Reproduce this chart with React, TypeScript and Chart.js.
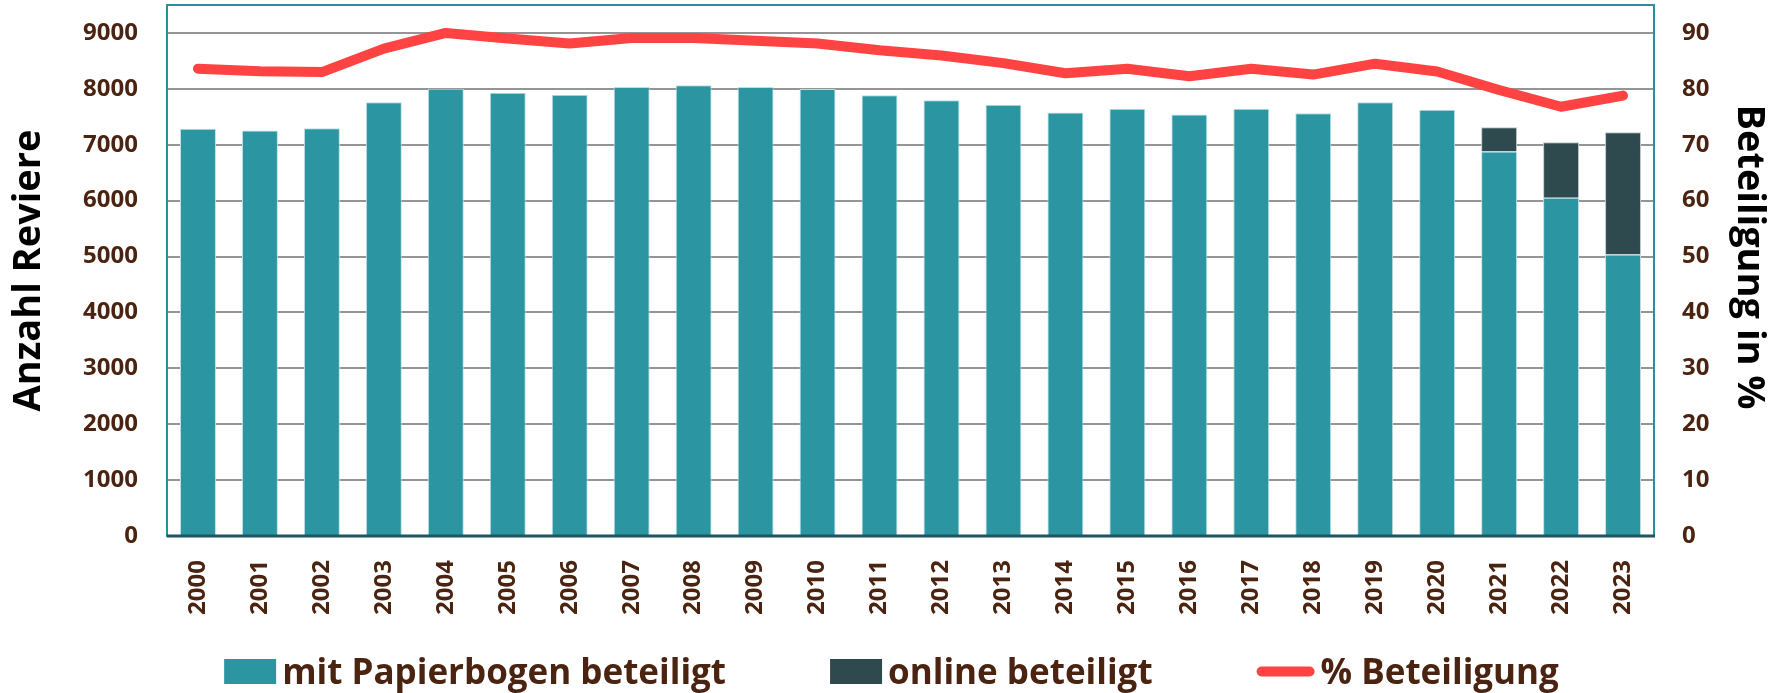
import React, { useEffect, useRef } from 'react';
import { Chart, registerables } from 'chart.js';

Chart.register(...registerables);

const years = ['2000', '2001', '2002', '2003', '2004', '2005', '2006', '2007', '2008', '2009', '2010', '2011', '2012', '2013', '2014', '2015', '2016', '2017', '2018', '2019', '2020', '2021', '2022', '2023'];
const paperValues = [7285, 7255, 7295, 7760, 8000, 7930, 7895, 8035, 8065, 8035, 7995, 7885, 7795, 7715, 7575, 7645, 7540, 7645, 7565, 7760, 7625, 6880, 6050, 5035];
const onlineValues = [null, null, null, null, null, null, null, null, null, null, null, null, null, null, null, null, null, null, null, null, null, 435, 995, 2190];
const percentValues = [83.6, 83.15, 83.0, 87.2, 90.0, 89.0, 88.1, 89.1, 89.1, 88.6, 88.1, 86.9, 85.95, 84.6, 82.8, 83.6, 82.25, 83.6, 82.55, 84.5, 83.1, 79.8, 76.8, 78.8];
const seriesLabels = ['mit Papierbogen beteiligt', 'online beteiligt', '% Beteiligung'];
const leftAxisTitle = 'Anzahl Reviere';
const rightAxisTitle = 'Beteiligung in %';
const leftTickValues = [0, 1000, 2000, 3000, 4000, 5000, 6000, 7000, 8000, 9000];
const rightTickValues = [0, 10, 20, 30, 40, 50, 60, 70, 80, 90];
const leftMax = 9500;
const rightMax = 95;

const FONT = '"Open Sans", sans-serif';
const BROWN = '#4a2410';
const TEAL = '#2b95a1';
const DARK = '#2f4a4f';
const RED = '#ff4242';

const frameColors = { border: '#2b8f99', bottom: '#1d5660' };

const borderPlugin = {
  id: 'plotFrame',
  afterDatasetsDraw(chart: any) {
    const { ctx, chartArea } = chart;
    ctx.save();
    ctx.strokeStyle = frameColors.border;
    ctx.lineWidth = 2;
    ctx.strokeRect(chartArea.left, chartArea.top, chartArea.right - chartArea.left, chartArea.bottom - chartArea.top);
    ctx.strokeStyle = frameColors.bottom;
    ctx.lineWidth = 3;
    ctx.beginPath();
    ctx.moveTo(chartArea.left, chartArea.bottom);
    ctx.lineTo(chartArea.right + 1, chartArea.bottom);
    ctx.stroke();
    ctx.restore();
  },
};

const rightTitlePlugin = {
  id: 'rightTitle',
  afterDraw(chart: any) {
    const ctx = chart.ctx;
    ctx.save();
    ctx.translate(1749, 257);
    ctx.rotate(Math.PI / 2);
    ctx.font = `bold 38px ${FONT}`;
    ctx.fillStyle = '#000000';
    ctx.textAlign = 'center';
    ctx.textBaseline = 'middle';
    ctx.fillText(rightAxisTitle, 0, 0);
    ctx.restore();
  },
};

const legendPlugin = {
  id: 'bottomLegend',
  afterDraw(chart: any) {
    const ctx = chart.ctx;
    ctx.save();
    ctx.font = `bold 35px ${FONT}`;
    const kinds = [
      { kind: 'box', color: TEAL },
      { kind: 'box', color: DARK },
      { kind: 'line', color: RED },
    ];
    const symW = [52, 52, 58];
    const textGap = 6;
    const itemGap = 104;
    const widths = seriesLabels.map((t, i) => symW[i] + textGap + ctx.measureText(t).width);
    const total = widths.reduce((a, b) => a + b, 0) + itemGap * (widths.length - 1);
    let x = chart.width / 2 - total / 2;
    const boxTop = 659;
    const boxH = 25;
    const baseline = 684;
    seriesLabels.forEach((t, i) => {
      const k = kinds[i];
      if (k.kind === 'box') {
        ctx.fillStyle = k.color;
        ctx.fillRect(x, boxTop, symW[i], boxH);
      } else {
        ctx.strokeStyle = k.color;
        ctx.lineWidth = 10;
        ctx.lineCap = 'round';
        ctx.beginPath();
        ctx.moveTo(x + 5, boxTop + boxH / 2);
        ctx.lineTo(x + symW[i] - 5, boxTop + boxH / 2);
        ctx.stroke();
      }
      ctx.fillStyle = BROWN;
      ctx.textAlign = 'left';
      ctx.textBaseline = 'alphabetic';
      ctx.fillText(t, x + symW[i] + textGap, baseline);
      x += widths[i] + itemGap;
    });
    ctx.restore();
  },
};

export default function App() {
  const ref = useRef<HTMLCanvasElement | null>(null);

  useEffect(() => {
    if (!ref.current) return;
    const tickFont = { family: FONT, size: 24, weight: 'bold' as const };
    const titleFont = { family: FONT, size: 38, weight: 'bold' as const };
    const chart = new Chart(ref.current, {
      type: 'bar',
      data: {
        labels: years,
        datasets: [
          {
            type: 'line',
            label: seriesLabels[2],
            data: percentValues,
            yAxisID: 'y1',
            borderColor: RED,
            backgroundColor: RED,
            borderWidth: 10,
            borderCapStyle: 'round',
            borderJoinStyle: 'round',
            pointRadius: 0,
            tension: 0,
            order: 0,
          } as any,
          {
            type: 'bar',
            label: seriesLabels[0],
            data: paperValues,
            yAxisID: 'y',
            backgroundColor: TEAL,
            borderColor: '#b9e0e4',
            borderWidth: 1,
            stack: 's',
            order: 1,
            barPercentage: 0.58,
            categoryPercentage: 1,
          },
          {
            type: 'bar',
            label: seriesLabels[1],
            data: onlineValues,
            yAxisID: 'y',
            backgroundColor: DARK,
            borderColor: '#b9c9cb',
            borderWidth: 1,
            stack: 's',
            order: 1,
            barPercentage: 0.58,
            categoryPercentage: 1,
          },
        ],
      },
      options: {
        animation: false,
        responsive: false,
        maintainAspectRatio: false,
        layout: { padding: { top: 5, left: 0, right: 0, bottom: 0 } },
        plugins: {
          legend: { display: false },
          tooltip: { enabled: false },
        },
        scales: {
          x: {
            stacked: true,
            offset: true,
            grid: { display: false },
            border: { display: false },
            ticks: {
              font: tickFont,
              color: BROWN,
              minRotation: 90,
              maxRotation: 90,
              padding: 16,
              autoSkip: false,
            },
            afterFit(scale: any) {
              scale.height = 157;
              scale.paddingLeft = 0;
              scale.paddingRight = 0;
            },
          },
          y: {
            stacked: true,
            position: 'left',
            min: 0,
            max: leftMax,
            grid: { color: '#959595', lineWidth: 2, drawTicks: false },
            border: { display: false },
            afterBuildTicks(scale: any) {
              scale.ticks = leftTickValues.map((v) => ({ value: v }));
            },
            ticks: {
              font: tickFont,
              color: BROWN,
              padding: 29,
              callback: (v: any) => String(v),
            },
            title: {
              display: true,
              text: leftAxisTitle,
              font: titleFont,
              color: '#000000',
              padding: { top: 6, bottom: 0 },
            },
            afterFit(scale: any) {
              scale.width = 167;
              scale.paddingTop = 0;
              scale.paddingBottom = 0;
            },
          },
          y1: {
            position: 'right',
            min: 0,
            max: rightMax,
            grid: { drawOnChartArea: false, drawTicks: false },
            border: { display: false },
            afterBuildTicks(scale: any) {
              scale.ticks = rightTickValues.map((v) => ({ value: v }));
            },
            ticks: {
              font: tickFont,
              color: BROWN,
              padding: 28,
              callback: (v: any) => String(v),
            },
            title: { display: false },
            afterFit(scale: any) {
              scale.width = 129;
              scale.paddingTop = 0;
              scale.paddingBottom = 0;
            },
          },
        },
      } as any,
      plugins: [borderPlugin, legendPlugin, rightTitlePlugin],
    });
    return () => chart.destroy();
  }, []);

  return (
    <div style={{ position: 'fixed', left: 0, top: 0, width: 1783, height: 693, background: '#ffffff' }}>
      <canvas ref={ref} width={1783} height={693} style={{ width: 1783, height: 693, display: 'block' }} />
    </div>
  );
}
